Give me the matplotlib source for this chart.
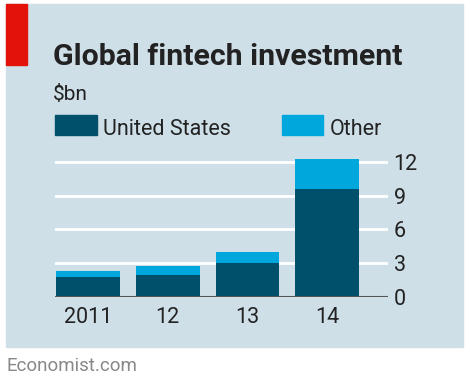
import matplotlib.pyplot as plt
from matplotlib.patches import Rectangle

# Data
years = ['2011', '12', '13', '14']
us = [1.8, 1.95, 3.05, 9.6]
other = [0.55, 0.8, 0.92, 2.65]
yticks = [0, 3, 6, 9, 12]

W, H = 470, 384
BG = '#cfdfe8'
DARK = '#00506b'
LIGHT = '#00a7dd'
TXT = '#222222'
plt.rcParams['font.family'] = ['Roboto', 'DejaVu Sans']

fig = plt.figure(figsize=(W / 100, H / 100), dpi=100)
fig.patch.set_facecolor('white')

def fx(px):
    return px / W

def fy(py):
    return 1 - py / H

# panel + red tag (behind the axes)
fig.patches.append(Rectangle((fx(6), fy(347)), fx(457), 343 / H,
                             transform=fig.transFigure, color=BG, zorder=-2))
fig.patches.append(Rectangle((fx(6), fy(65)), fx(21), 61 / H,
                             transform=fig.transFigure, color='#e3120b', zorder=-1))

fig.text(fx(53), fy(65), 'Global fintech investment', fontsize=21.8, fontweight='bold',
         color=TXT, va='baseline')
fig.text(fx(53), fy(100), '$bn', fontsize=15, color=TXT, va='baseline')

# legend
fig.patches.append(Rectangle((fx(55), fy(135)), fx(42), 20 / H,
                             transform=fig.transFigure, color=DARK, zorder=-1))
fig.text(fx(103), fy(135), 'United States', fontsize=15.5, color=TXT, va='baseline')
fig.patches.append(Rectangle((fx(282), fy(135)), fx(41), 20 / H,
                             transform=fig.transFigure, color=LIGHT, zorder=-1))
fig.text(fx(330), fy(135), 'Other', fontsize=15.5, color=TXT, va='baseline')

ax = fig.add_axes([fx(55), (H - 297) / H, fx(333), (297 - 158.6) / H])
ax.set_facecolor('none')
x = range(len(years))
ax.bar(x, us, width=0.8, color=DARK, zorder=3)
ax.bar(x, other, width=0.8, bottom=us, color=LIGHT, zorder=3)

ax.set_xlim(-0.41, 3.76)
ax.set_ylim(0, 12.3)
for t in yticks[1:]:
    ax.axhline(t, color='white', linewidth=2, zorder=1)
ax.axhline(0, color='#555555', linewidth=1.5, zorder=4)

ax.set_xticks(list(x))
ax.set_xticklabels(years)
ax.set_yticks(yticks)
ax.yaxis.tick_right()
ax.tick_params(axis='both', length=0, labelsize=15.5, colors=TXT)
ax.tick_params(axis='y', pad=4)
ax.tick_params(axis='x', pad=7)
for s in ax.spines.values():
    s.set_visible(False)

fig.text(fx(6), fy(371), 'Economist.com', fontsize=13.5, color='#888888', va='baseline')

fig.savefig('out.png', dpi=100, facecolor='white')
